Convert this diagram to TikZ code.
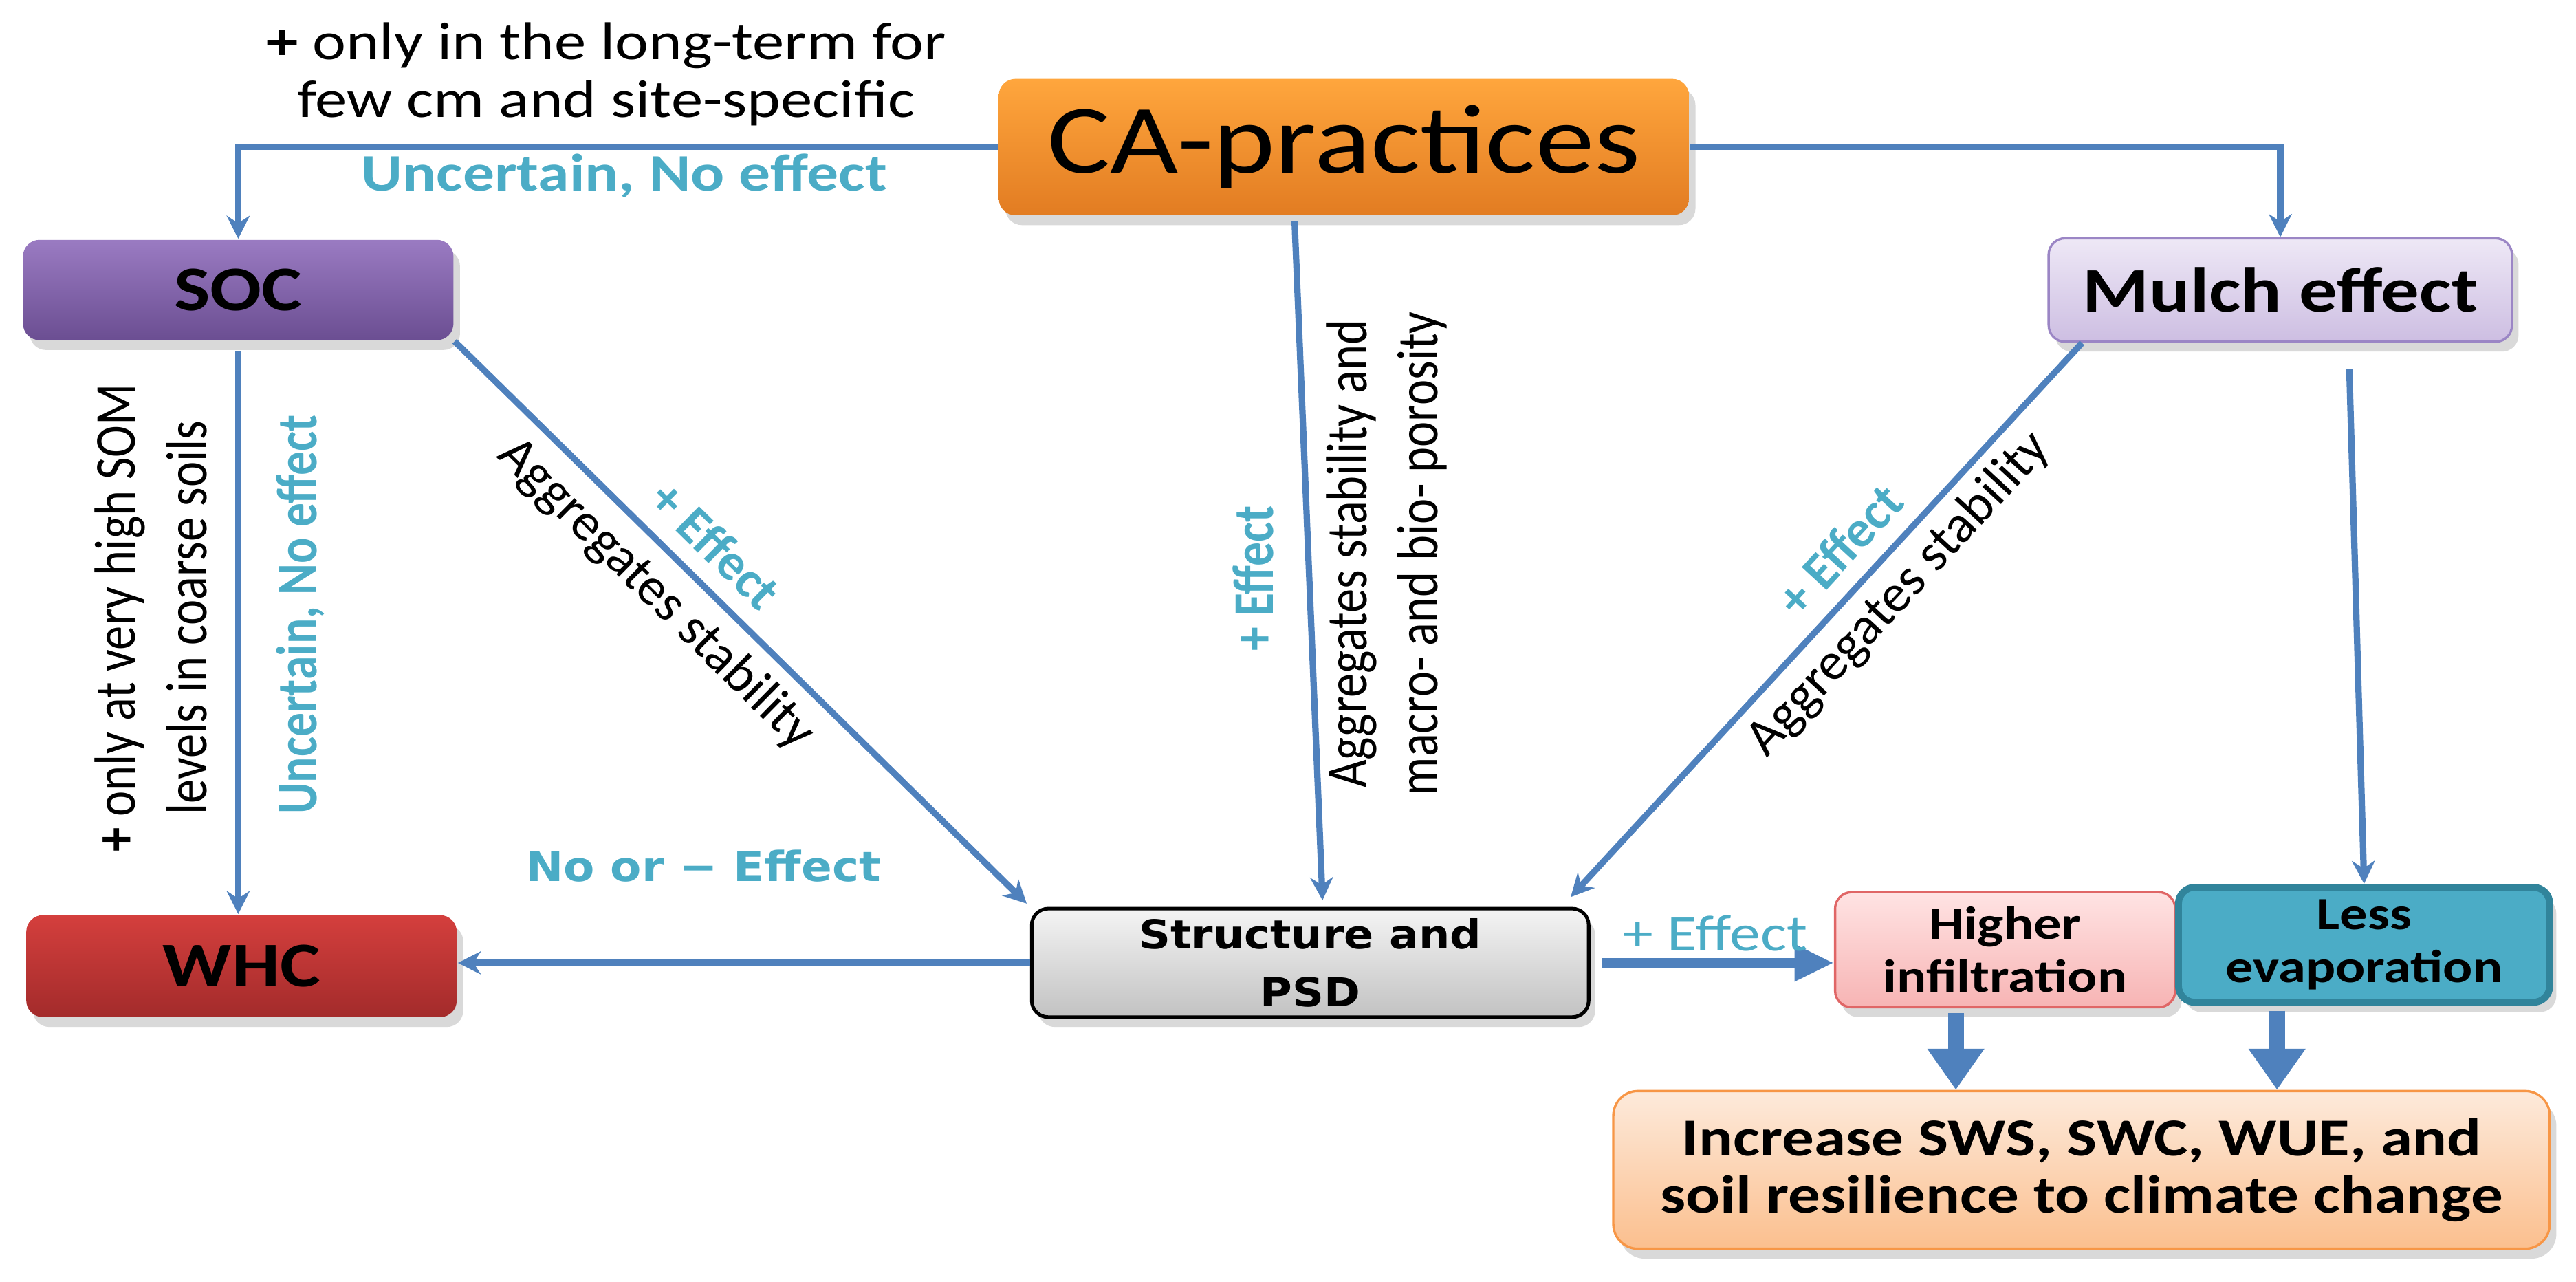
\documentclass[tikz,border=0pt]{standalone}
\usepackage{fontspec}
\setmainfont{Carlito}[FakeStretch=1.2]
\newfontfamily\rotfont{Carlito}
\newfontfamily\verdfont{DejaVu Sans}[FakeStretch=1.1]
\usetikzlibrary{positioning, arrows.meta, calc, shadows}

\definecolor{arrowblue}{HTML}{4F81BD}
\definecolor{effteal}{HTML}{4BACC6}
\definecolor{caTop}{HTML}{FFA63D}
\definecolor{caBot}{HTML}{E27C22}
\definecolor{socTop}{HTML}{9A7BC2}
\definecolor{socBot}{HTML}{6B4E92}
\definecolor{mulTop}{HTML}{EEE8F6}
\definecolor{mulBot}{HTML}{CDBEE2}
\definecolor{mulLine}{HTML}{9B86C5}
\definecolor{whcTop}{HTML}{D43F3D}
\definecolor{whcBot}{HTML}{A32B2B}
\definecolor{psdTop}{HTML}{F4F4F4}
\definecolor{psdBot}{HTML}{C2C2C2}
\definecolor{infTop}{HTML}{FFE3E3}
\definecolor{infBot}{HTML}{F7B4B4}
\definecolor{infLine}{HTML}{E06666}
\definecolor{evapFill}{HTML}{4BACC6}
\definecolor{evapLine}{HTML}{31849B}
\definecolor{incTop}{HTML}{FDEADB}
\definecolor{incBot}{HTML}{FBBF8E}
\definecolor{incLine}{HTML}{F79646}

\begin{document}
\begin{tikzpicture}[>={Stealth[length=1.4mm, width=1.4mm]},
  conn/.style={->, draw=arrowblue, line width=1.1pt},
  fatdown/.style={draw=arrowblue, line width=0.95mm, -{Triangle[length=2.5mm, width=3.3mm]}},
  fatright/.style={draw=arrowblue, line width=0.6mm, -{Triangle[length=2.4mm, width=2.1mm]}},
  box/.style={rounded corners=1mm, align=center, inner sep=0pt,
    drop shadow={opacity=0.3, shadow xshift=0.4mm, shadow yshift=-0.6mm}},
  boxfont/.style={font=\bfseries\fontsize{11}{13}\selectfont},
  note/.style={align=center, inner sep=0pt, font=\fontsize{9.2}{10}\selectfont},
  efflab/.style={inner sep=0pt, text=effteal, font=\bfseries\fontsize{9.1}{10}\selectfont},
  vnote/.style={transform shape, xscale=1.2, rotate=90, align=center, inner sep=0pt, font=\rotfont\fontsize{8.4}{10.3}\selectfont},
  vefflab/.style={transform shape, xscale=1.2, rotate=90, inner sep=0pt, text=effteal, font=\rotfont\bfseries\fontsize{8.3}{10}\selectfont},
  dnote/.style={sloped, inner sep=0.8mm, font=\rotfont\fontsize{9.2}{11}\selectfont},
  defflab/.style={sloped, inner sep=1mm, text=effteal, font=\rotfont\bfseries\fontsize{9}{11}\selectfont}]
\useasboundingbox (0,0) rectangle (15.68,-7.80);
% boxes
\node[box, top color=caTop, bottom color=caBot, minimum width=4.2cm, minimum height=0.83cm,
  font=\fontsize{17}{20}\selectfont] (ca) at (8.18,-0.895) {CA-practices};
\node[box, boxfont, top color=socTop, bottom color=socBot, minimum width=2.62cm, minimum height=0.61cm] (soc) at (1.45,-1.765) {SOC};
\node[box, boxfont, draw=mulLine, top color=mulTop, bottom color=mulBot, minimum width=2.82cm, minimum height=0.63cm] (mulch) at (13.88,-1.765) {Mulch effect};
\node[box, boxfont, top color=whcTop, bottom color=whcBot, minimum width=2.62cm, minimum height=0.62cm] (whc) at (1.47,-5.88) {WHC};
\node[box, draw=black, line width=0.6pt, top color=psdTop, bottom color=psdBot, minimum width=3.39cm, minimum height=0.66cm,
  font=\verdfont\bfseries\fontsize{6.9}{10}\selectfont] (psd) at (7.975,-5.86) {Structure and\\PSD};
\node[box, draw=infLine, top color=infTop, bottom color=infBot, minimum width=2.07cm, minimum height=0.70cm,
  font=\bfseries\fontsize{8}{9.2}\selectfont] (infil) at (12.205,-5.78) {Higher\\infiltration};
\node[box, draw=evapLine, line width=1.2pt, fill=evapFill, minimum width=2.26cm, minimum height=0.70cm,
  font=\bfseries\fontsize{8}{9.2}\selectfont] (evap) at (14.39,-5.75) {Less\\evaporation};
\node[box, rounded corners=1.5mm, draw=incLine, top color=incTop, bottom color=incBot, minimum width=5.70cm, minimum height=0.96cm,
  font=\bfseries\fontsize{9.25}{9.9}\selectfont] (incr) at (12.67,-7.12) {Increase SWS, SWC, WUE, and\\soil resilience to climate change};
% connectors
\draw[conn] (ca.west) -| (soc.north);
\draw[conn] (ca.east) -| (mulch.north);
\draw[conn] ([xshift=-3mm,yshift=-0.3mm]ca.south) -- ([xshift=0.75mm,yshift=0.4mm]psd.north);
\draw[conn] ([yshift=-0.6mm]soc.south) -- (soc.south |- whc.north);
\draw[conn] (soc.south east) -- ([xshift=-0.2mm,yshift=0.2mm]psd.north west)
  node[defflab, pos=0.41, above] (lsoceff) {+ Effect}
  node[dnote, pos=0.40, below] (lsocagg) {Aggregates stability};
\draw[conn] ([xshift=2.1mm]mulch.south west) -- ([xshift=-1.2mm,yshift=0.6mm]psd.north east)
  node[defflab, pos=0.42, above] (lmuleff) {+ Effect}
  node[dnote, pos=0.41, below, inner sep=0.6mm] (lmulagg) {Aggregates stability};
\draw[conn] ([xshift=4.2mm,yshift=-1.6mm]mulch.south) -- (evap.north);
\draw[conn] (psd.west) -- (psd.west -| whc.east);
\draw[fatright] ([xshift=0.7mm]psd.east) -- (psd.east -| infil.west);
\draw[fatdown] ([xshift=-3mm,yshift=-0.3mm]infil.south) -- ($(infil.south |- incr.north)+(-3mm,0)$);
\draw[fatdown] ([xshift=-5.3mm,yshift=-0.3mm]evap.south) -- ($(evap.south |- incr.north)+(-5.3mm,0)$);
% labels
\node[note] (ltop) at (3.69,-0.45) {\textbf{+} only in the long-term for\\few cm and site-specific};
\node[efflab] (ltopeff) at (3.80,-1.07) {Uncertain, No effect};
\node[vnote] (lsom) at (0.92,-3.76) {\textbf{+} only at very high SOM\\levels in coarse soils};
\node[vefflab] (lsomeff) at (1.83,-3.74) {Uncertain, No effect};
\node[vefflab] (lcaeff) at (7.63,-3.52) {+ Effect};
\node[vnote] (lcaagg) at (8.44,-3.37) {Aggregates stability and\\macro- and bio- porosity};
\node[inner sep=0pt, text=effteal, font=\verdfont\bfseries\fontsize{7.15}{8}\selectfont] (lnoeff) at (4.28,-5.27) {No or − Effect};
\node[inner sep=0pt, text=effteal, font=\fontsize{8.9}{10}\selectfont] (lpluseff) at (10.44,-5.68) {+ Effect};
\end{tikzpicture}
\end{document}
